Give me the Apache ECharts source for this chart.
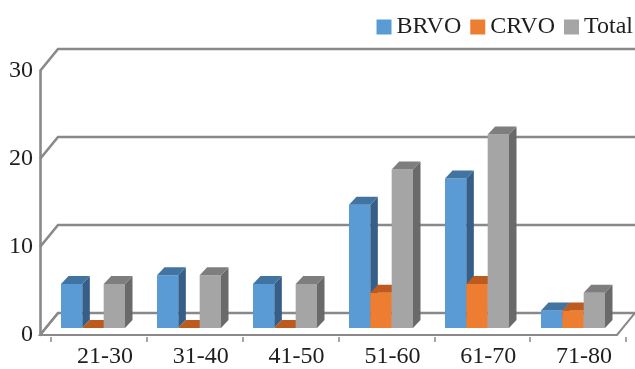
<!DOCTYPE html>
<html>
<head>
<meta charset="utf-8">
<script src="https://cdn.jsdelivr.net/npm/echarts@6/dist/echarts.min.js"></script>
<style>
  html, body { margin: 0; padding: 0; background: #fff; }
  #chart { width: 635px; height: 369px; }
</style>
</head>
<body>
<div id="chart"></div>
<script>
// Age groups and case counts
const ageGroups = ['21-30', '31-40', '41-50', '51-60', '61-70', '71-80'];
const brvo  = [5, 6, 5, 14, 17, 2];
const crvo  = [0, 0, 0, 4, 5, 2];
const total = [5, 6, 5, 18, 22, 4];
const yTicks = [0, 10, 20, 30];

const FONT = '"Liberation Serif", "Times New Roman", serif';
const TEXT = '#1e1e1e';
const WALL = '#898989';

// depth offsets for the chart box and for bar blocks
const WALL_DX = 18, WALL_DY = 22;
const BAR_DX = 7.5, BAR_DY = 8;

const palette = [
  { name: 'BRVO',  front: '#5B9BD5', top: '#4274A2', side: '#355F88', data: brvo },
  { name: 'CRVO',  front: '#ED7D31', top: '#BD5B1F', side: '#A34E18', data: crvo },
  { name: 'Total', front: '#A5A5A5', top: '#7E7E7E', side: '#6A6A6A', data: total }
];

function barRenderer(idx, p) {
  return function (params, api) {
    const cat = api.value(0);
    const val = api.value(1);
    const base = api.coord([cat, 0]);
    const top = api.coord([cat, val]);
    const band = api.size([1, 0])[0];
    const w = band * 2 / 9;
    const x = base[0] - band / 3 + idx * w;
    const yb = base[1], yt = top[1];
    return {
      type: 'group',
      children: [
        { type: 'rect', shape: { x: x, y: yt, width: w, height: yb - yt },
          style: { fill: p.front } },
        { type: 'polygon', shape: { points: [[x + w, yt], [x + w + BAR_DX, yt - BAR_DY], [x + w + BAR_DX, yb - BAR_DY], [x + w, yb]] },
          style: { fill: p.side } },
        { type: 'polygon', shape: { points: [[x, yt], [x + BAR_DX, yt - BAR_DY], [x + w + BAR_DX, yt - BAR_DY], [x + w, yt]] },
          style: { fill: p.top } }
      ]
    };
  };
}

function wallRenderer(params, api) {
  const v = api.value(1);
  const a = api.coord([0, v]);
  const b = api.coord([1, v]);
  const children = [];
  if (v === 0) {
    children.push({ type: 'polygon',
      shape: { points: [[a[0], a[1]], [b[0], b[1]], [b[0] + WALL_DX, b[1] - WALL_DY], [a[0] + WALL_DX, a[1] - WALL_DY]] },
      style: { fill: '#fff', stroke: WALL, lineWidth: 2 } });
  }
  children.push({ type: 'polyline',
    shape: { points: [[a[0], a[1]], [a[0] + WALL_DX, a[1] - WALL_DY], [api.getWidth(), a[1] - WALL_DY]] },
    style: { fill: null, stroke: WALL, lineWidth: 2.6 } });
  return { type: 'group', children: children };
}

const chart = echarts.init(document.getElementById('chart'), null, { renderer: 'canvas' });

const series = [{
  type: 'custom',
  name: 'walls',
  xAxisIndex: 1, yAxisIndex: 1,
  z: 1,
  silent: true,
  renderItem: wallRenderer,
  data: yTicks.map(v => [0, v])
}];
palette.forEach((p, i) => {
  series.push({
    type: 'custom',
    name: p.name,
    xAxisIndex: 0, yAxisIndex: 0,
    z: 3 + i,
    itemStyle: { color: p.front },
    renderItem: barRenderer(i, p),
    data: p.data.map((v, k) => [k, v])
  });
});

chart.setOption({
  animation: false,
  backgroundColor: '#fff',
  legend: {
    data: palette.map(p => p.name),
    icon: 'rect',
    right: 2, top: 15,
    padding: 0,
    itemWidth: 15, itemHeight: 15,
    itemGap: 9,
    textStyle: { fontFamily: FONT, fontSize: 24, color: TEXT }
  },
  grid: [
    { left: 45, right: 14, top: 64, bottom: 41 },   // bar plane
    { left: 40, right: 18, top: 71, bottom: 34 },   // front plane
    { left: 51, right: 9, top: 71, bottom: 32 }     // category labels
  ],
  xAxis: [
    { type: 'category', gridIndex: 0, data: ageGroups, show: false },
    { type: 'value', gridIndex: 1, min: 0, max: 1, show: false },
    { type: 'category', gridIndex: 2, data: ageGroups,
      axisLine: { show: false },
      axisTick: { show: true, length: 5, lineStyle: { color: WALL, width: 1.5 } },
      axisLabel: { fontFamily: FONT, fontSize: 24, color: TEXT, margin: 8, padding: [0, 0, 0, 12] } }
  ],
  yAxis: [
    { type: 'value', gridIndex: 0, min: 0, max: 30, interval: 10, show: false },
    { type: 'value', gridIndex: 1, min: 0, max: 30, interval: 10,
      axisLine: { show: true, lineStyle: { color: WALL, width: 2.6 } },
      axisTick: { show: false },
      splitLine: { show: false },
      axisLabel: { fontFamily: FONT, fontSize: 24, color: TEXT, margin: 7 } },
    { type: 'value', gridIndex: 2, min: 0, max: 30, show: false }
  ],
  series: series
});
</script>
</body>
</html>
